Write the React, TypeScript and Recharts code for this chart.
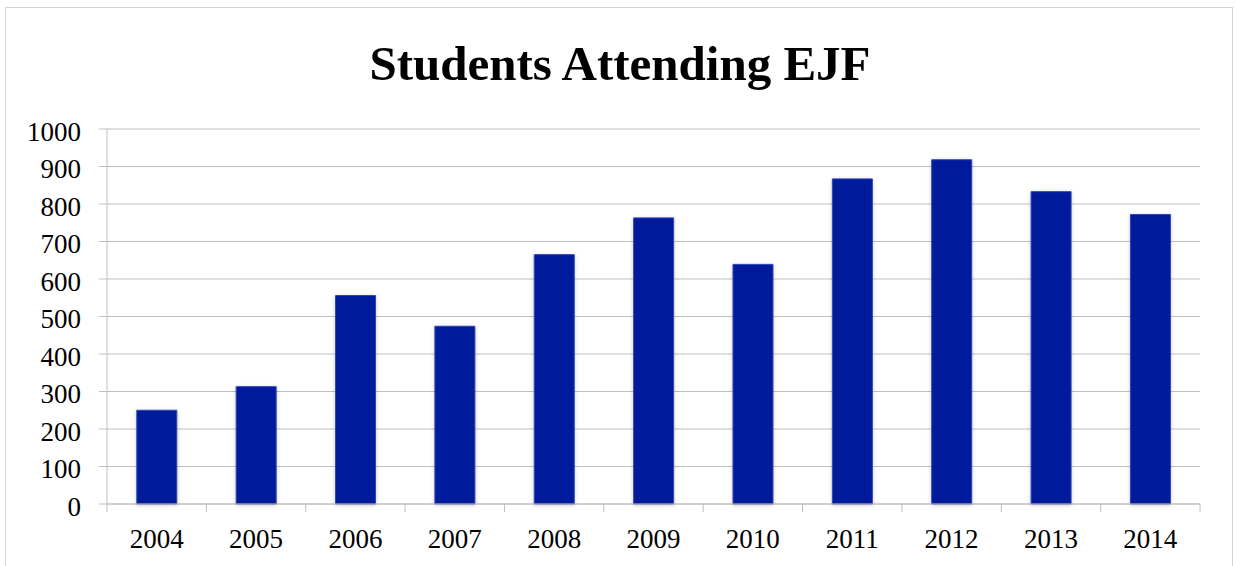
import { Bar, BarChart, CartesianGrid, XAxis, YAxis } from 'recharts'

const years = ['2004', '2005', '2006', '2007', '2008', '2009', '2010', '2011', '2012', '2013', '2014']
const students = [250, 313, 556, 474, 665, 763, 639, 867, 918, 833, 772]
const yTicks = [0, 100, 200, 300, 400, 500, 600, 700, 800, 900, 1000]

const title = 'Students Attending EJF'

const data = years.map((year, i) => ({ year, students: students[i] }))

const W = 1235
const H = 566
const M = { top: 129, right: 35, bottom: 0, left: 0 }
const Y_WIDTH = 107
const X_HEIGHT = 62
const AXIS = '#bfbfbf'
const FONT = '"Liberation Serif", "Times New Roman", serif'

// width of one year column in the plot area
const BAND = (W - M.left - M.right - Y_WIDTH) / years.length

// value labels sit a touch below their gridline
function YTick({ x, y, payload }: any) {
  return (
    <text x={x} y={y + 2} dy="0.355em" textAnchor="end" fontFamily={FONT} fontSize={27} fill="#000">
      {payload.value}
    </text>
  )
}

// year label, plus tick marks on the column edges rather than the centre
function XTick({ x, y, payload, index }: any) {
  const top = y - 25
  const left = x - BAND / 2
  return (
    <g>
      <line x1={left} x2={left} y1={top} y2={top + 8} stroke={AXIS} />
      {index === years.length - 1 && (
        <line x1={left + BAND} x2={left + BAND} y1={top} y2={top + 8} stroke={AXIS} />
      )}
      <text x={x} y={y} dy="0.71em" textAnchor="middle" fontFamily={FONT} fontSize={27} fill="#000">
        {payload.value}
      </text>
    </g>
  )
}

export default function App() {
  return (
    <div style={{ position: 'absolute', left: 0, top: 0, width: W, height: H, background: '#fff', overflow: 'hidden' }}>
      <div
        style={{
          position: 'absolute',
          left: 5,
          top: 7,
          width: 1228,
          height: 600,
          border: '1px solid #d4d4d4',
          boxSizing: 'border-box',
        }}
      />
      <svg width={W} height={100} style={{ position: 'absolute', left: 0, top: 0 }}>
        <text x={620} y={80} textAnchor="middle" fontFamily={FONT} fontWeight="bold" fontSize={49} fill="#000">
          {title}
        </text>
      </svg>
      <div style={{ position: 'absolute', left: 0, top: 0 }}>
        <BarChart width={W} height={H} data={data} margin={M} barCategoryGap="30%">
          <CartesianGrid vertical={false} stroke={AXIS} />
          <XAxis
            dataKey="year"
            height={X_HEIGHT}
            tickLine={false}
            axisLine={{ stroke: AXIS }}
            tickSize={8}
            tickMargin={17}
            tick={XTick}
            interval={0}
          />
          <YAxis
            domain={[0, 1000]}
            ticks={yTicks}
            width={Y_WIDTH}
            tickSize={8}
            tickMargin={18}
            tickLine={{ stroke: AXIS }}
            axisLine={{ stroke: AXIS }}
            tick={YTick}
            interval={0}
          />
          <Bar
            dataKey="students"
            fill="#001a9c"
            stroke="#2f45b5"
            strokeWidth={1}
            style={{ filter: 'drop-shadow(0px 1px 2px rgba(0,0,0,0.18))' }}
            isAnimationActive={false}
          />
        </BarChart>
      </div>
    </div>
  )
}
